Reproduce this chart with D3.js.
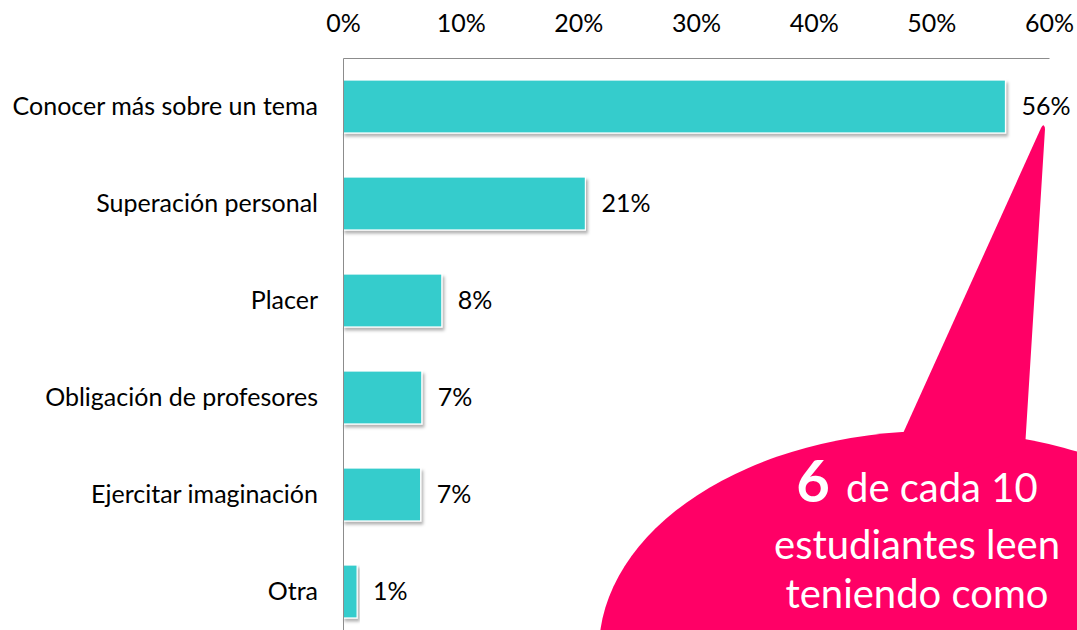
<!DOCTYPE html>
<html>
<head>
<meta charset="utf-8">
<script src="https://cdn.jsdelivr.net/npm/d3@7"></script>
<style>
  body { margin: 0; background: #fff; }
  svg text { font-family: Lato, "Open Sans", sans-serif; }
  .axis text { fill: #000; }
  .axis path { stroke: #8c8c8c; }
</style>
</head>
<body>
<svg id="chart"></svg>
<script>
// motivos de lectura (share of students)
const categories = [
  "Conocer más sobre un tema",
  "Superación personal",
  "Placer",
  "Obligación de profesores",
  "Ejercitar imaginación",
  "Otra"
];
const values = [0.563, 0.206, 0.084, 0.067, 0.066, 0.012];
const tickValues = [0, 0.1, 0.2, 0.3, 0.4, 0.5, 0.6];
const calloutBig = "6";
const calloutLines = ["de cada 10", "estudiantes leen", "teniendo como"];

const width = 1077, height = 630;
const margin = {top: 58, left: 343};
const innerW = 706, innerH = 582;
const labelSize = "25px";

const svg = d3.select("#chart")
    .attr("width", width)
    .attr("height", height);

// soft shadow under bars
const defs = svg.append("defs");
defs.append("filter")
    .attr("id", "shadow")
    .attr("x", "-10%").attr("y", "-20%")
    .attr("width", "130%").attr("height", "150%")
  .append("feDropShadow")
    .attr("dx", 2).attr("dy", 3)
    .attr("stdDeviation", 1.8)
    .attr("flood-color", "#000")
    .attr("flood-opacity", 0.3);

const chart = svg.append("g")
    .attr("transform", `translate(${margin.left},${margin.top})`);

const xScale = d3.scaleLinear()
    .domain([0, 0.6])
    .range([0, innerW]);

const yScale = d3.scaleBand()
    .domain(categories)
    .range([0, innerH])
    .paddingInner(0.454)
    .paddingOuter(0.227);

const xAxis = d3.axisTop(xScale)
    .tickValues(tickValues)
    .tickFormat(d3.format(".0%"))
    .tickSize(0)
    .tickSizeOuter(0)
    .tickPadding(26);

const yAxis = d3.axisLeft(yScale)
    .tickSize(0)
    .tickSizeOuter(0)
    .tickPadding(25);

const xAxisG = chart.append("g")
    .attr("class", "axis x-axis")
    .call(xAxis)
    .attr("font-family", null)
    .attr("font-size", null);
xAxisG.selectAll("text").style("font-size", labelSize);

// bars
chart.selectAll(".bar")
    .data(values)
    .enter()
  .append("rect")
    .attr("class", "bar")
    .attr("x", 0)
    .attr("y", (d, i) => yScale(categories[i]))
    .attr("width", d => xScale(d))
    .attr("height", yScale.bandwidth())
    .attr("fill", "#34cccc")
    .attr("stroke", "#fff")
    .attr("stroke-width", 1.2)
    .attr("filter", "url(#shadow)");

chart.selectAll(".value")
    .data(values)
    .enter()
  .append("text")
    .attr("class", "value")
    .attr("x", d => xScale(d) + 16)
    .attr("y", (d, i) => yScale(categories[i]) + yScale.bandwidth() / 2)
    .attr("dy", "0.35em")
    .style("font-size", labelSize)
    .text(d3.format(".0%"));

const yAxisG = chart.append("g")
    .attr("class", "axis y-axis")
    .call(yAxis)
    .attr("font-family", null)
    .attr("font-size", null);
yAxisG.selectAll("text").style("font-size", labelSize);

// speech bubble callout
const bubble = svg.append("g").attr("class", "callout");
bubble.append("ellipse")
    .attr("cx", 935).attr("cy", 650)
    .attr("rx", 336).attr("ry", 219)
    .attr("fill", "#ff0066");
bubble.append("path")
    .attr("d", "M900,440 L1041,128 Q1044,122 1045,129 L1025,448 L960,470 Z")
    .attr("fill", "#ff0066");

const calloutText = bubble.append("text")
    .attr("text-anchor", "middle")
    .attr("fill", "#fff")
    .style("font-size", "40px");

calloutText.append("tspan")
    .attr("x", 917).attr("y", 502)
    .style("font-weight", "bold")
    .style("font-size", "58px")
    .text(calloutBig);
calloutText.append("tspan")
    .attr("dx", 16)
    .text(calloutLines[0]);
calloutLines.slice(1).forEach((t, i) => {
  calloutText.append("tspan")
      .attr("x", 917)
      .attr("y", 559 + i * 49)
      .text(t);
});
</script>
</body>
</html>
